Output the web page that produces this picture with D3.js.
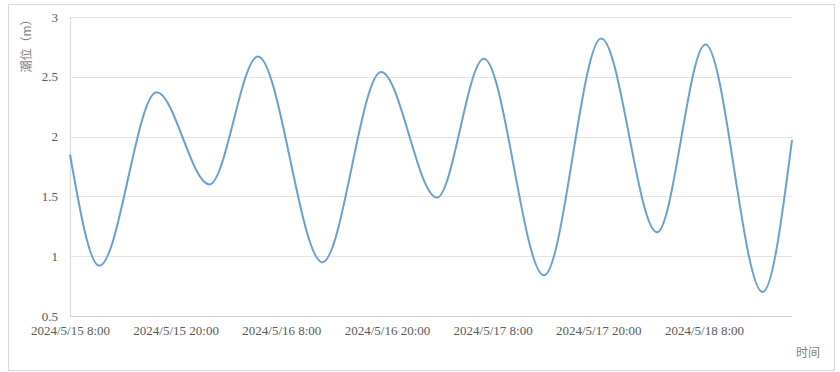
<!DOCTYPE html>
<html>
<head>
<meta charset="utf-8">
<script src="https://cdn.jsdelivr.net/npm/d3@7/dist/d3.min.js"></script>
<style>
html,body{margin:0;padding:0;background:#fff;}
svg{display:block;}
</style>
</head>
<body>
<svg id="chart" width="840" height="372"></svg>
<script>
// ---- data ----
const times = ["2024-05-15T08:00","2024-05-15T11:20","2024-05-15T17:50","2024-05-15T23:50",
  "2024-05-16T05:20","2024-05-16T12:40","2024-05-16T19:20","2024-05-17T01:40",
  "2024-05-17T07:00","2024-05-17T13:50","2024-05-17T20:20","2024-05-18T02:40",
  "2024-05-18T08:10","2024-05-18T14:40","2024-05-18T18:00"];
const tideLevels = [1.85,0.92,2.37,1.60,2.67,0.95,2.54,1.49,2.65,0.84,2.82,1.20,2.77,0.70,1.97];
const xTickTimes = ["2024-05-15T08:00","2024-05-15T20:00","2024-05-16T08:00","2024-05-16T20:00",
  "2024-05-17T08:00","2024-05-17T20:00","2024-05-18T08:00"];
const yTicks = [0.5,1,1.5,2,2.5,3];
const yTitle = "潮位（m）";
const xTitle = "时间";

const parse = d3.timeParse("%Y-%m-%dT%H:%M");
const fmt = d => `${d.getFullYear()}/${d.getMonth()+1}/${d.getDate()} ${d.getHours()}:${String(d.getMinutes()).padStart(2,"0")}`;

const svg = d3.select("#chart");
const plotL = 70, plotR = 792, plotT = 17, plotB = 316;

// outer frame
svg.append("rect").attr("x",8.5).attr("y",4.5).attr("width",826).attr("height",366)
  .attr("fill","#fff").attr("stroke","#d9d9d9").attr("stroke-width",1);

const x = d3.scaleTime().domain([parse(times[0]), parse(times[times.length-1])]).range([plotL,plotR]);
const y = d3.scaleLinear().domain([0.5,3]).range([plotB,plotT]);

// gridlines
svg.append("g").selectAll("line").data(yTicks).join("line")
  .attr("x1",plotL).attr("x2",plotR)
  .attr("y1",d=>Math.round(y(d))+0.5).attr("y2",d=>Math.round(y(d))+0.5)
  .attr("stroke",d=>d===0.5?"#d0d0d0":"#e3e3e3").attr("stroke-width",1.2);
// left axis line
svg.append("line").attr("x1",plotL+0.5).attr("x2",plotL+0.5).attr("y1",plotT).attr("y2",plotB)
  .attr("stroke","#d9d9d9").attr("stroke-width",1.2);

// y-axis labels
const yAxis = d3.axisLeft(y).tickValues(yTicks).tickSize(0).tickPadding(12).tickFormat(d3.format("~g"));
const gy = svg.append("g").attr("transform",`translate(${plotL},0)`).call(yAxis);
gy.select(".domain").remove();
gy.selectAll("text").attr("fill","#595959").style("font-family","'Liberation Serif','Times New Roman',serif").style("font-size","13px");

// x-axis labels
const xAxis = d3.axisBottom(x).tickValues(xTickTimes.map(parse)).tickSize(0).tickPadding(10).tickFormat(fmt);
const gx = svg.append("g").attr("transform",`translate(0,${plotB})`).call(xAxis);
gx.select(".domain").remove();
gx.selectAll("text").attr("fill","#595959").style("font-family","'Liberation Serif','Times New Roman',serif").style("font-size","13px");

// line
const data = times.map((t,i)=>({t:parse(t),v:tideLevels[i]}));
svg.append("path").datum(data)
  .attr("fill","none").attr("stroke","#6a9fd0").attr("stroke-width",2)
  .attr("d", d3.line().x(d=>x(d.t)).y(d=>y(d.v)).curve(d3.curveMonotoneX));

// titles
svg.append("text").attr("transform","translate(31,43) rotate(-90)")
  .attr("text-anchor","middle").attr("fill","#7f7f7f")
  .style("font-family","'Noto Sans CJK SC',sans-serif").style("font-size","12px").text(yTitle);
svg.append("text").attr("x",808).attr("y",357).attr("text-anchor","middle").attr("fill","#7f7f7f")
  .style("font-family","'Noto Sans CJK SC',sans-serif").style("font-size","12px").text(xTitle);
</script>
</body>
</html>
